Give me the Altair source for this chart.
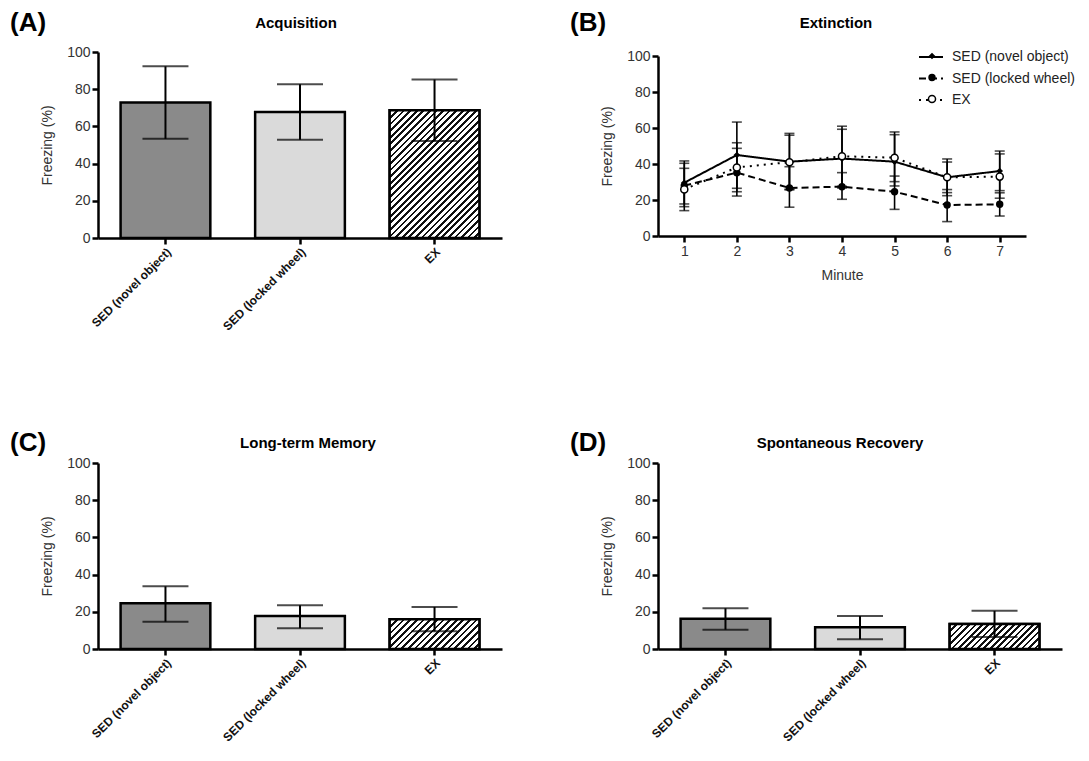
import math
import altair as alt
import pandas as pd

FONT = "Liberation Sans, Arial, sans-serif"

# ---------------- data ----------------
groups = ["SED (novel object)", "SED (locked wheel)", "EX"]

acq_mean = [72.8, 67.8, 68.7]
acq_lo = [53.3, 52.8, 52.1]
acq_hi = [92.3, 82.7, 85.2]

ltm_mean = [24.6, 17.8, 16.0]
ltm_lo = [14.7, 11.1, 9.5]
ltm_hi = [33.7, 23.5, 22.6]

sr_mean = [16.2, 11.7, 13.5]
sr_lo = [10.4, 5.2, 6.5]
sr_hi = [21.9, 17.8, 20.5]

minutes = [1, 2, 3, 4, 5, 6, 7]
ext_novel = [29.6, 45.0, 41.3, 43.0, 41.3, 32.6, 36.1]
ext_novel_lo = [17.8, 26.5, 25.6, 26.7, 27.8, 22.4, 25.2]
ext_novel_hi = [41.7, 63.3, 57.0, 59.3, 56.3, 42.8, 47.2]
ext_locked = [28.0, 35.2, 26.7, 27.4, 24.6, 17.2, 17.6]
ext_locked_lo = [16.3, 22.2, 16.0, 20.4, 14.8, 8.0, 11.1]
ext_locked_hi = [40.4, 48.7, 38.5, 35.2, 33.3, 25.8, 24.0]
ext_ex = [25.9, 38.1, 41.0, 44.3, 43.5, 32.6, 33.0]
ext_ex_lo = [14.1, 24.6, 26.0, 27.6, 30.2, 24.1, 21.0]
ext_ex_hi = [37.6, 51.8, 56.0, 61.0, 57.8, 41.1, 45.6]

y_ticks = [0, 20, 40, 60, 80, 100]

# ---------------- layout constants ----------------
BAR_W = 404
BAR_H = 186
EXT_W = 368
EXT_H = 184
EXT_TOP = 4
P_INNER = 0.333
P_OUTER = 0.168


def hatch_gradient(mean_value, plot_h, plot_w, n_cat=3, period=6.5, dark=0.42):
    """Diagonal '/' hatching made from a sharp-stop linear gradient."""
    step = plot_w / (n_cat - P_INNER + 2 * P_OUTER)
    w = step * (1 - P_INNER)
    h = max(mean_value * plot_h / 100.0, 1.0)
    r = h / w
    k = (1 + r) / (1 + r * r)
    n = max(int(round((w + h) / period)), 2)
    stops = []
    for i in range(n):
        a = i / n
        b = (i + dark) / n
        c = (i + 1) / n
        stops += [
            {"color": "#111111", "offset": a},
            {"color": "#111111", "offset": b},
            {"color": "#ffffff", "offset": b},
            {"color": "#ffffff", "offset": c},
        ]
    return {"gradient": "linear", "x1": 0, "y1": 0, "x2": k, "y2": k * r, "stops": stops}


def label_layer(letter, title, title_x, dy):
    lab = pd.DataFrame({"t": [letter]})
    tit = pd.DataFrame({"t": [title]})
    a = alt.Chart(lab).mark_text(
        font=FONT, fontSize=26, fontWeight="bold", align="left", baseline="middle", color="black"
    ).encode(text="t:N", x=alt.value(-88), y=alt.value(dy))
    b = alt.Chart(tit).mark_text(
        font=FONT, fontSize=15, fontWeight="bold", align="center", baseline="middle", color="black"
    ).encode(text="t:N", x=alt.value(title_x), y=alt.value(dy))
    return a, b


def y_axis():
    return alt.Axis(values=y_ticks, title="Freezing (%)", titlePadding=12,
                    labelOverlap=False, tickCount=6)


def bar_panel(letter, title, title_x, dy, mean, lo, hi):
    df = pd.DataFrame({"group": groups, "mean": mean, "lo": lo, "hi": hi})
    x = alt.X(
        "group:N",
        sort=groups,
        scale=alt.Scale(paddingInner=P_INNER, paddingOuter=P_OUTER),
        axis=alt.Axis(title=None, labelAngle=-45, labelFontWeight="bold", labelFontSize=12,
                      labelColor="#111", labelPadding=2),
    )
    yscale = alt.Scale(domain=[0, 100], nice=False)
    yax = y_axis()
    base = alt.Chart(df)
    bars = base.mark_bar(stroke="black", strokeWidth=2.5).encode(
        x=x,
        y=alt.Y("mean:Q", scale=yscale, axis=yax),
        fill=alt.Fill("group:N", scale=alt.Scale(domain=groups, range=["#8a8a8a", "#dadada", "#ffffff"]),
                      legend=None),
    )
    ex_val = mean[groups.index("EX")]
    hatch = base.transform_filter(alt.datum.group == "EX").mark_bar(
        fill=hatch_gradient(ex_val, BAR_H, BAR_W), stroke="black", strokeWidth=2.5
    ).encode(x=x, y=alt.Y("mean:Q", scale=yscale, axis=yax))
    rule = base.mark_rule(color="black", strokeWidth=2).encode(
        x=x, y=alt.Y("lo:Q", scale=yscale, axis=yax), y2="hi:Q")
    cap_hi = base.mark_tick(color="black", size=46, thickness=2, orient="horizontal").encode(
        x=x, y=alt.Y("hi:Q", scale=yscale, axis=yax))
    cap_lo = base.mark_tick(color="black", size=46, thickness=2, orient="horizontal").encode(
        x=x, y=alt.Y("lo:Q", scale=yscale, axis=yax))
    a, b = label_layer(letter, title, title_x, dy)
    return alt.layer(bars, hatch, rule, cap_hi, cap_lo, a, b).properties(width=BAR_W, height=BAR_H)


def ext_panel():
    # marker legend uses a separate copy of the group names (trailing space) so that
    # Vega-Lite keeps it apart from the line-style legend it is overlaid on
    groups_m = [g + " " for g in groups]
    rows = []
    series = [
        (0, ext_novel, ext_novel_lo, ext_novel_hi),
        (1, ext_locked, ext_locked_lo, ext_locked_hi),
        (2, ext_ex, ext_ex_lo, ext_ex_hi),
    ]
    for gi, m, lo, hi in series:
        for i, mn in enumerate(minutes):
            rows.append({"minute": mn, "group": groups[gi], "group2": groups_m[gi],
                         "mean": m[i], "lo": lo[i], "hi": hi[i]})
    df = pd.DataFrame(rows)
    base = alt.Chart(df)
    x = alt.X("minute:Q", scale=alt.Scale(domain=[0.5, 7.5], nice=False, zero=False),
              axis=alt.Axis(values=minutes, format="d", title="Minute", titlePadding=10))
    yscale = alt.Scale(domain=[0, 100], nice=False, range=[EXT_H, EXT_TOP])
    yax = y_axis()
    rule = base.mark_rule(color="black", strokeWidth=1.6).encode(
        x=x, y=alt.Y("lo:Q", scale=yscale, axis=yax), y2="hi:Q")
    cap_hi = base.mark_tick(color="black", size=10, thickness=1.6, orient="horizontal").encode(
        x=x, y=alt.Y("hi:Q", scale=yscale, axis=yax))
    cap_lo = base.mark_tick(color="black", size=10, thickness=1.6, orient="horizontal").encode(
        x=x, y=alt.Y("lo:Q", scale=yscale, axis=yax))
    lines = base.mark_line(color="black", strokeWidth=2).encode(
        x=x,
        y=alt.Y("mean:Q", scale=yscale, axis=yax),
        strokeDash=alt.StrokeDash(
            "group:N",
            scale=alt.Scale(domain=groups, range=[[1, 0], [7, 4], [2, 5]]),
            legend=alt.Legend(orient="none", legendX=260, legendY=-8, title=None,
                              symbolType="stroke", symbolSize=576, symbolStrokeWidth=2,
                              symbolStrokeColor="black", labelFont=FONT, labelFontSize=14,
                              labelColor="#222", labelOffset=8, rowPadding=1.5),
        ),
    )
    pt_legend = alt.Legend(orient="none", legendX=267, legendY=-3, title=None,
                           labelExpr="''", symbolStrokeColor="black",
                           symbolStrokeWidth=1.5, labelFontSize=14, rowPadding=7.5)
    pts = base.mark_point(filled=True, strokeWidth=1.5, opacity=1).encode(
        x=x,
        y=alt.Y("mean:Q", scale=yscale, axis=yax),
        shape=alt.Shape("group2:N", scale=alt.Scale(domain=groups_m, range=["diamond", "circle", "circle"]),
                        legend=pt_legend),
        fill=alt.Fill("group2:N", scale=alt.Scale(domain=groups_m, range=["black", "black", "white"]),
                      legend=pt_legend),
        stroke=alt.Stroke("group2:N", scale=alt.Scale(domain=groups_m, range=["black", "black", "black"]),
                          legend=pt_legend),
        size=alt.Size("group2:N", scale=alt.Scale(domain=groups_m, range=[20, 50, 80]),
                      legend=pt_legend),
    )
    a, b = label_layer("(B)", "Extinction", 178, -29)
    return alt.layer(rule, cap_hi, cap_lo, lines, pts, a, b).properties(width=EXT_W, height=EXT_H)


RES = dict(fill="independent", stroke="independent", shape="independent", size="independent",
           strokeDash="independent")

A = bar_panel("(A)", "Acquisition", 198, -29, acq_mean, acq_lo, acq_hi)
B = ext_panel()
C = bar_panel("(C)", "Long-term Memory", 210, -20, ltm_mean, ltm_lo, ltm_hi)
D = bar_panel("(D)", "Spontaneous Recovery", 182, -20, sr_mean, sr_lo, sr_hi)

top = alt.hconcat(A, B, spacing=68).resolve_scale(**RES)
bottom = alt.hconcat(C, D, spacing=68).resolve_scale(**RES)

chart = alt.vconcat(top, bottom, spacing=97).resolve_scale(**RES).properties(
    padding={"left": 10, "top": 10, "right": 0, "bottom": 0},
    background="white",
).configure_view(stroke=None).configure_axis(
    grid=False,
    domainColor="black",
    domainWidth=2.5,
    tickColor="black",
    tickWidth=2.5,
    tickSize=6,
    labelFont=FONT,
    labelFontSize=14,
    labelColor="#333",
    labelPadding=2,
    labelOverlap=False,
    titleFont=FONT,
    titleFontSize=14,
    titleFontWeight="normal",
    titleColor="#333",
).configure_legend(labelFont=FONT)

chart.save("out.html", embed_options={"renderer": "svg", "actions": False})
